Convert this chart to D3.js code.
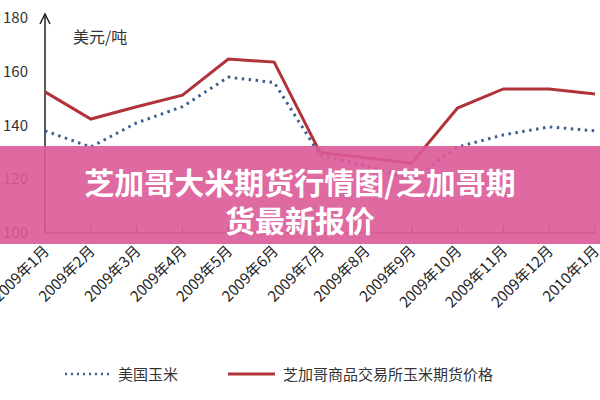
<!DOCTYPE html>
<html><head><meta charset="utf-8">
<script src="https://cdn.jsdelivr.net/npm/d3@7"></script>
<style>body{margin:0;background:#fff}svg{display:block}</style>
</head><body><svg id="c" width="600" height="400"></svg>
<script>
const categories=["2009年1月","2009年2月","2009年3月","2009年4月","2009年5月","2009年6月","2009年7月","2009年8月","2009年9月","2009年10月","2009年11月","2009年12月","2010年1月"];
const usCorn=[138,132,141,147,158,156,129,125,120,132,136.5,139.5,138];
const cmeCorn=[152.5,142.4,147,151.3,164.7,163.6,130,128,126,146.5,153.6,153.6,151.7];
const yTicks=[100,120,140,160,180];
const seriesNames=["美国玉米","芝加哥商品交易所玉米期货价格"];
const title1="芝加哥大米期货行情图/芝加哥期";
const title2="货最新报价";

const svg=d3.select("#c");
const font="'Noto Sans CJK SC','Noto Sans',sans-serif";
const x=d3.scalePoint().domain(categories).range([45,595]);
const y=d3.scaleLinear().domain([100,180]).range([233,18]);

svg.append("line").attr("x1",45).attr("x2",45).attr("y1",233).attr("y2",14).attr("stroke","#222").attr("stroke-width",1.5);
svg.append("path").attr("d","M40,24 L45,14 L50,24").attr("fill","none").attr("stroke","#222").attr("stroke-width",1.5);
svg.selectAll(".yt").data(yTicks).join("text").attr("x",28).attr("y",d=>y(d)+5).attr("text-anchor","end")
 .attr("font-family",font).attr("font-size",15).attr("fill","#333").text(d=>d);
svg.append("text").attr("x",73).attr("y",43).attr("font-family",font).attr("font-size",16).attr("fill","#333").text("美元/吨");
svg.append("line").attr("x1",45).attr("x2",595).attr("y1",233).attr("y2",233).attr("stroke","#333");
svg.selectAll(".xtk").data(categories).join("line").attr("x1",d=>x(d)).attr("x2",d=>x(d)).attr("y1",226).attr("y2",233).attr("stroke","#333");
svg.selectAll(".xt").data(categories).join("text")
 .attr("transform",d=>`translate(${x(d)+5},${252}) rotate(-45)`).attr("text-anchor","end")
 .attr("font-family",font).attr("font-size",15).attr("fill","#222").text(d=>d);

const line=d3.line().x((d,i)=>x(categories[i])).y(d=>y(d));
svg.append("path").datum(usCorn).attr("d",line).attr("fill","none").attr("stroke","#3a5f8f").attr("stroke-width",3).attr("stroke-dasharray","2.5,4.5");
svg.append("path").datum(cmeCorn).attr("d",line).attr("fill","none").attr("stroke","#b0333a").attr("stroke-width",3);

svg.append("line").attr("x1",65).attr("x2",110).attr("y1",374).attr("y2",374).attr("stroke","#3a5f8f").attr("stroke-width",2.5).attr("stroke-dasharray","2,4");
svg.append("text").attr("x",118).attr("y",380).attr("font-family",font).attr("font-size",15).attr("fill","#333").text(seriesNames[0]);
svg.append("line").attr("x1",228).attr("x2",275).attr("y1",374).attr("y2",374).attr("stroke","#b0333a").attr("stroke-width",3);
svg.append("text").attr("x",283).attr("y",380).attr("font-family",font).attr("font-size",15).attr("fill","#333").text(seriesNames[1]);

svg.append("rect").attr("x",0).attr("y",146).attr("width",600).attr("height",98).attr("fill","#dc5a98").attr("opacity",0.9);
[title1,title2].forEach((t,i)=>svg.append("text").attr("x",300).attr("y",194+i*38).attr("text-anchor","middle")
 .attr("font-family",font).attr("font-weight","bold").attr("font-size",30).attr("fill","#fff").text(t));
</script></body></html>
